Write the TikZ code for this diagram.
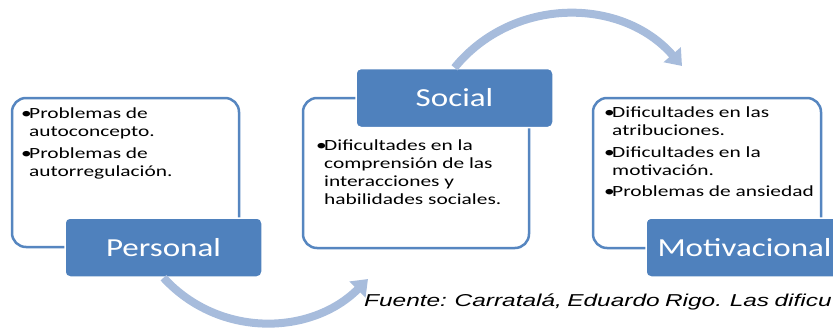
\documentclass[tikz,border=0pt]{standalone}
\usepackage{fontspec}
\usetikzlibrary{arrows.meta}
\newfontfamily\bodyf[FakeStretch=1.38]{Carlito}
\newfontfamily\labf[FakeStretch=1.27]{Carlito}
\newfontfamily\srcf[FakeStretch=1.42,WordSpace=0.8]{Liberation Sans}
\definecolor{lblue}{RGB}{79,129,189}
\definecolor{bord}{RGB}{86,134,192}
\definecolor{arcc}{RGB}{167,188,220}
\newcommand\bl{\makebox[8pt][l]{•}}
\newcommand\ind{\hspace*{8pt}}
\begin{document}
\begin{tikzpicture}[x=1pt,y=-1pt,
  outerbox/.style={draw=bord, line width=2.5pt, fill=white, rounded corners=14pt, inner sep=0pt},
  labelbox/.style={draw=white, line width=1.5pt, fill=lblue, rounded corners=5pt, text=white,
    font=\labf\fontsize{26}{30}\selectfont, inner sep=0pt, minimum width=197pt, minimum height=59pt},
  bodytext/.style={anchor=north west, inner sep=0pt, align=left, font=\bodyf\fontsize{15.5}{18}\selectfont},
  flow/.style={draw=arcc, line width=8pt, -{Triangle[width=22pt,length=15pt]}}
]
\useasboundingbox (0,0) rectangle (833,327);
\clip (0,0) rectangle (833,327);

% outer boxes
\node[outerbox, minimum width=227pt, minimum height=149pt] (pbox) at (125.5,172.5) {};
\node[outerbox, minimum width=226pt, minimum height=150pt] (sbox) at (416,173) {};
\node[outerbox, minimum width=228pt, minimum height=150pt] (mbox) at (707,173) {};

% label boxes
\node[labelbox] (personal) at (163.5,247.5) {Personal};
\node[labelbox] (social) at (454.5,98) {Social};
\node[labelbox] (motiv) at (744.5,247.5) {Motivacional};

% arcs
\coordinate (t1) at (682,66);
\coordinate (t2) at (368,279);
\draw[flow] (social.north) .. controls (513,-4) and (622,-3) .. (t1);
\draw[flow] (personal.south) .. controls (220,339) and (312,335) .. (t2);

% texts
\node[bodytext] (ptext) at (21,108) {\bl Problemas de\\\ind autoconcepto.\\[3.5pt]\bl Problemas de\\\ind autorregulación.};
\node[bodytext] (stext) at (316,140) {\bl Dificultades en la\\\ind comprensión de las\\\ind interacciones y\\\ind habilidades sociales.};
\node[bodytext] (mtext) at (604,107) {\bl Dificultades en las\\\ind atribuciones.\\[3.5pt]\bl Dificultades en la\\\ind motivación.\\[3.5pt]\bl Problemas de ansiedad};

\node[anchor=base west, inner sep=0pt, font=\srcf\itshape\fontsize{17.2}{20}\selectfont] (src) at (364,306.7) {Fuente: Carratalá, Eduardo Rigo. Las dificu};
\end{tikzpicture}
\end{document}
